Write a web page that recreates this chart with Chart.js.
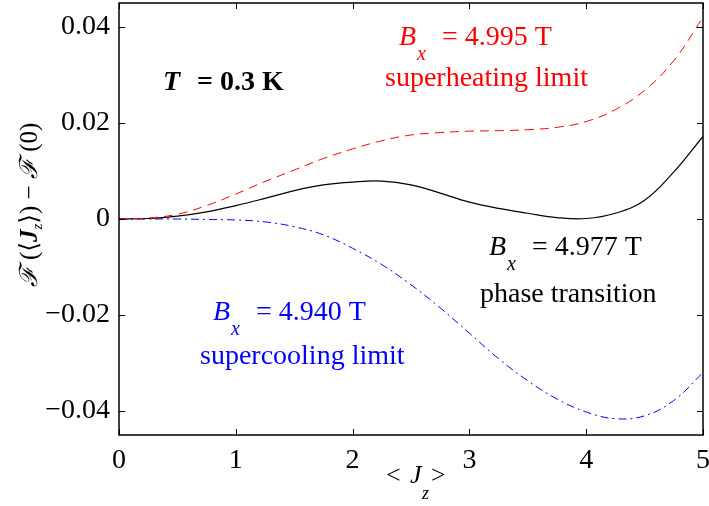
<!DOCTYPE html>
<html>
<head>
<meta charset="utf-8">
<script src="https://cdn.jsdelivr.net/npm/chart.js@4.4.1/dist/chart.umd.min.js"></script>
<style>
  html, body { margin: 0; padding: 0; background: #fff; }
  #wrap { width: 709px; height: 506px; }
</style>
</head>
<body>
<div id="wrap"><canvas id="grafico" width="709" height="506"></canvas></div>
<script>
const jz = [0, 0.25, 0.5, 0.75, 1, 1.25, 1.5, 1.75, 2, 2.25, 2.5, 2.75, 3, 3.25, 3.5, 3.75, 4, 4.25, 4.5, 4.75, 5];
const transicion = [0, 0.0001, 0.0006, 0.0015, 0.0028, 0.0043, 0.0059, 0.0071, 0.0077, 0.0079, 0.0071, 0.0054, 0.0035, 0.0022, 0.0012, 0.0003, 0.0001, 0.0012, 0.0039, 0.0098, 0.0172];
const sobrecalent = [0, 0.0002, 0.001, 0.0028, 0.0052, 0.0078, 0.0102, 0.0126, 0.0146, 0.0163, 0.0175, 0.018, 0.0183, 0.0184, 0.0186, 0.0191, 0.0203, 0.0228, 0.0268, 0.033, 0.042];
const subenfr = [0, 0, 0, -0.0001, -0.0002, -0.0006, -0.0016, -0.0033, -0.0061, -0.0095, -0.0137, -0.0185, -0.0238, -0.0291, -0.0337, -0.0375, -0.0402, -0.0416, -0.041, -0.0378, -0.032];
const xTicks = [0, 1, 2, 3, 4, 5];
const yTicks = [-0.04, -0.02, 0, 0.02, 0.04];

const serif = '"Liberation Serif", "DejaVu Serif", serif';

function puntos(ys) {
  return jz.map((x, i) => ({ x: x, y: ys[i] }));
}

function sinPadding(ax) {
  ax.paddingLeft = 0; ax.paddingRight = 0; ax.paddingTop = 0; ax.paddingBottom = 0;
}

// marco, ticks hacia dentro y textos
const decor = {
  id: "decor",
  afterDraw(chart) {
    const { ctx, chartArea: a, scales } = chart;
    const sx = scales.x, sy = scales.y;
    ctx.save();
    ctx.strokeStyle = "#000";
    ctx.lineWidth = 1.5;
    ctx.strokeRect(a.left, a.top, a.right - a.left, a.bottom - a.top);
    ctx.lineWidth = 1;
    ctx.beginPath();
    xTicks.forEach(v => {
      const px = Math.round(sx.getPixelForValue(v)) + 0.5;
      ctx.moveTo(px, a.bottom); ctx.lineTo(px, a.bottom - 6);
      ctx.moveTo(px, a.top); ctx.lineTo(px, a.top + 6);
    });
    yTicks.forEach(v => {
      const py = Math.round(sy.getPixelForValue(v)) + 0.5;
      ctx.moveTo(a.left, py); ctx.lineTo(a.left + 6, py);
      ctx.moveTo(a.right, py); ctx.lineTo(a.right - 6, py);
    });
    ctx.stroke();

    ctx.textBaseline = "alphabetic";
    ctx.textAlign = "left";

    // T = 0.3 K
    ctx.fillStyle = "#000";
    ctx.font = "italic bold 28px " + serif;
    ctx.fillText("T", 163, 90);
    ctx.font = "bold 28px " + serif;
    ctx.fillText("= 0.3 K", 197, 90);

    function bx(x, y, valor, color) {
      ctx.fillStyle = color;
      ctx.font = "italic 28px " + serif;
      ctx.fillText("B", x, y);
      ctx.font = "italic 20px " + serif;
      ctx.fillText("x", x + 18, y + 15);
      ctx.font = "28px " + serif;
      ctx.fillText("= " + valor + " T", x + 43, y);
    }
    function linea(x, y, txt, color) {
      ctx.fillStyle = color;
      ctx.font = "28px " + serif;
      ctx.fillText(txt, x, y);
    }
    bx(399, 45, "4.995", "#ff0000");
    linea(385, 86, "superheating limit", "#ff0000");
    bx(489, 255, "4.977", "#000");
    linea(480, 302, "phase transition", "#000");
    bx(213, 320, "4.940", "#0000ff");
    linea(200, 364, "supercooling limit", "#0000ff");

    // titulo eje x
    ctx.fillStyle = "#000";
    ctx.font = "26px " + serif;
    ctx.fillText("<", 386, 483);
    ctx.font = "italic 26px " + serif;
    ctx.fillText("J", 410, 483);
    ctx.font = "italic 18px " + serif;
    ctx.fillText("z", 422, 499);
    ctx.font = "26px " + serif;
    ctx.fillText(">", 431, 483);

    // titulo eje y
    ctx.translate(37, 205);
    ctx.rotate(-Math.PI / 2);
    const partes = [
      ["italic 25px " + serif, "\u2131", 0],
      ["25px " + serif, " (\u27E8", 0],
      ["italic bold 25px " + serif, "J", 0],
      ["italic 15px " + serif, "z", 5],
      ["25px " + serif, "\u27E9) \u2212 ", 0],
      ["italic 25px " + serif, "\u2131", 0],
      ["25px " + serif, " (0)", 0]
    ];
    let total = 0;
    partes.forEach(([f, t]) => { ctx.font = f; total += ctx.measureText(t).width; });
    let cx = -total / 2;
    partes.forEach(([f, t, dy]) => {
      ctx.font = f;
      ctx.fillText(t, cx, dy);
      cx += ctx.measureText(t).width;
    });
    ctx.restore();
  }
};

new Chart(document.getElementById("grafico"), {
  type: "line",
  data: {
    datasets: [
      {
        label: "superheating",
        data: puntos(sobrecalent),
        borderColor: "#ff0000",
        borderWidth: 1,
        borderDash: [9, 6],
        pointRadius: 0,
        tension: 0.4,
      },
      {
        label: "transition",
        data: puntos(transicion),
        borderColor: "#000000",
        borderWidth: 1.2,
        pointRadius: 0,
        tension: 0.4,
      },
      {
        label: "supercooling",
        data: puntos(subenfr),
        borderColor: "#0000ff",
        borderWidth: 1,
        borderDash: [8, 4, 2, 4],
        pointRadius: 0,
        tension: 0.4,
      },
    ],
  },
  options: {
    responsive: false,
    animation: false,
    layout: { padding: { left: 0, top: 3, right: 6, bottom: 0 } },
    plugins: { legend: { display: false }, tooltip: { enabled: false } },
    scales: {
      x: {
        type: "linear",
        min: 0,
        max: 5,
        afterBuildTicks: (ax) => { ax.ticks = xTicks.map(v => ({ value: v })); },
        afterFit: (ax) => { ax.height = 71; sinPadding(ax); },
        grid: { display: false, drawTicks: false },
        border: { display: false },
        ticks: {
          color: "#000",
          font: { family: serif, size: 28 },
          padding: 9,
          maxRotation: 0,
          callback: (v) => String(v),
        },
      },
      y: {
        type: "linear",
        min: -0.045,
        max: 0.045,
        afterBuildTicks: (ax) => { ax.ticks = yTicks.map(v => ({ value: v })); },
        afterFit: (ax) => { ax.width = 119; sinPadding(ax); },
        grid: { display: false, drawTicks: false },
        border: { display: false },
        ticks: {
          color: "#000",
          font: { family: serif, size: 28 },
          padding: 9,
          callback: (v) => (v === 0 ? "0" : (v < 0 ? "\u2212" : "") + Math.abs(v).toFixed(2)),
        },
      },
    },
  },
  plugins: [decor],
});
</script>
</body>
</html>
